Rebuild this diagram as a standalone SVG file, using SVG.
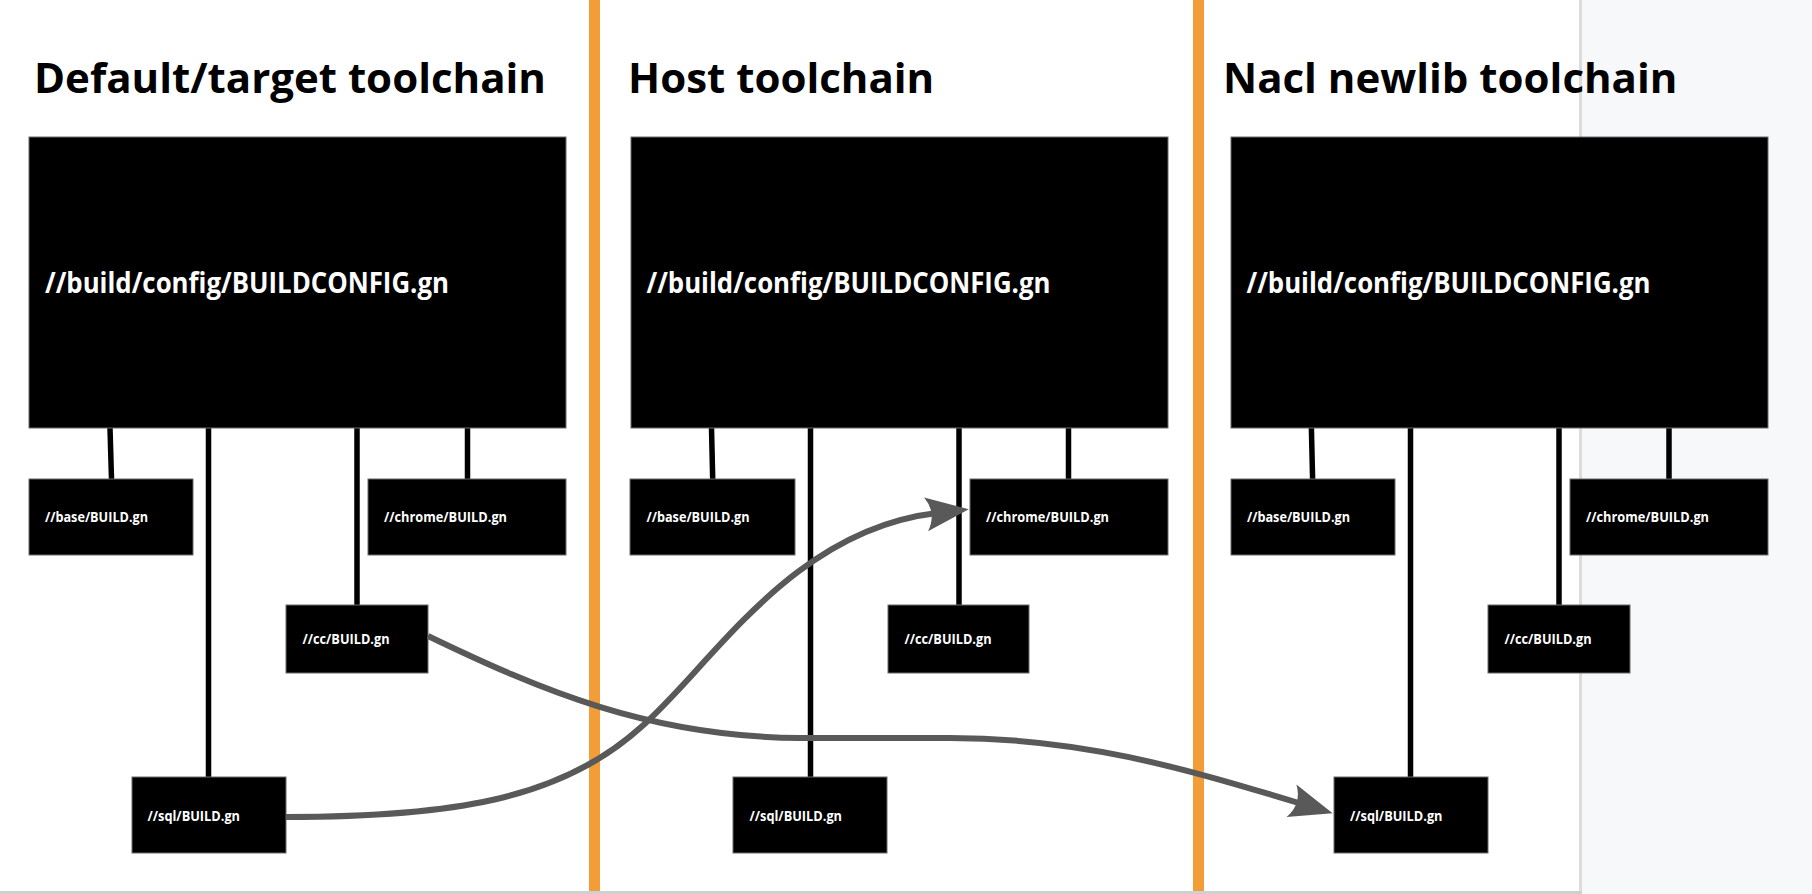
<svg xmlns="http://www.w3.org/2000/svg" width="1812" height="894" viewBox="0 0 1812 894">
<style>
.title{font-family:"Open Sans","Noto Sans","Liberation Sans",sans-serif;font-weight:700;font-size:42px;fill:#000}
.box{fill:#000;stroke:#6a6a6a;stroke-width:1}
.big{font-family:"Open Sans","Noto Sans","Liberation Sans",sans-serif;font-weight:700;font-size:28px;fill:#fff}
.sm{font-family:"Open Sans","Noto Sans","Liberation Sans",sans-serif;font-weight:700;font-size:14px;fill:#fff}
.tree{stroke:#000;stroke-width:5.5;fill:none}
.dep{stroke:#595959;stroke-width:6;fill:none;marker-end:url(#ah)}
.sep{fill:#F39D38}
</style>
<defs>
<marker id="ah" markerUnits="userSpaceOnUse" markerWidth="44" markerHeight="36" viewBox="0 0 44 36" refX="11" refY="18" orient="auto" overflow="visible">
<path d="M0,1 L43,18 L0,35 Q11,18 0,1 Z" fill="#595959"/>
</marker>
</defs>
<rect x="0" y="0" width="1812" height="894" fill="#fff"/>
<rect x="1580" y="0" width="232" height="894" fill="#f7f8fa"/>
<rect x="1579" y="0" width="3" height="894" fill="#dcdcdc"/>
<rect x="0" y="891" width="1582" height="3" fill="#d0d0d0"/>
<rect class="sep" x="589" y="0" width="11" height="891"/>
<rect class="sep" x="1193" y="0" width="11" height="891"/>

<text class="title" x="34" y="93">Default/target toolchain</text>
<text class="title" x="628" y="93">Host toolchain</text>
<text class="title" x="1223" y="93">Nacl newlib toolchain</text>

<g id="connectors">
<path class="tree" d="M110,428 L111.5,479"/>
<path class="tree" d="M208.5,428 L208.5,777"/>
<path class="tree" d="M357,428 L357,605"/>
<path class="tree" d="M467.5,428 L467.5,479"/>
<path class="tree" d="M711.5,428 L712.7,479"/>
<path class="tree" d="M810.5,428 L810.5,777"/>
<path class="tree" d="M959,428 L959,605"/>
<path class="tree" d="M1068.5,428 L1068.5,479"/>
<path class="tree" d="M1311.4,428 L1312.6,479"/>
<path class="tree" d="M1410.5,428 L1410.5,777"/>
<path class="tree" d="M1559,428 L1559,605"/>
<path class="tree" d="M1669,428 L1669,479"/>
</g>

<g id="t1-config"><rect class="box" x="29" y="137" width="537" height="291"/><text class="big" x="45" y="293" textLength="404" lengthAdjust="spacingAndGlyphs">//build/config/BUILDCONFIG.gn</text></g>
<g id="t1-base"><rect class="box" x="29" y="479" width="164" height="76"/><text class="sm" x="45" y="522" textLength="103" lengthAdjust="spacingAndGlyphs">//base/BUILD.gn</text></g>
<g id="t1-chrome"><rect class="box" x="368" y="479" width="198" height="76"/><text class="sm" x="384" y="522" textLength="123" lengthAdjust="spacingAndGlyphs">//chrome/BUILD.gn</text></g>
<g id="t1-cc"><rect class="box" x="286" y="605" width="142" height="68"/><text class="sm" x="302.5" y="644" textLength="87" lengthAdjust="spacingAndGlyphs">//cc/BUILD.gn</text></g>
<g id="t1-sql"><rect class="box" x="132" y="777" width="154" height="76"/><text class="sm" x="147.5" y="820.5" textLength="92.5" lengthAdjust="spacingAndGlyphs">//sql/BUILD.gn</text></g>

<g id="t2-config"><rect class="box" x="631" y="137" width="537" height="291"/><text class="big" x="646.5" y="293" textLength="404" lengthAdjust="spacingAndGlyphs">//build/config/BUILDCONFIG.gn</text></g>
<g id="t2-base"><rect class="box" x="630" y="479" width="165" height="76"/><text class="sm" x="646.5" y="522" textLength="103" lengthAdjust="spacingAndGlyphs">//base/BUILD.gn</text></g>
<g id="t2-chrome"><rect class="box" x="970" y="479" width="198" height="76"/><text class="sm" x="986" y="522" textLength="123" lengthAdjust="spacingAndGlyphs">//chrome/BUILD.gn</text></g>
<g id="t2-cc"><rect class="box" x="888" y="605" width="141" height="68"/><text class="sm" x="904.5" y="644" textLength="87" lengthAdjust="spacingAndGlyphs">//cc/BUILD.gn</text></g>
<g id="t2-sql"><rect class="box" x="733" y="777" width="154" height="76"/><text class="sm" x="749.5" y="820.5" textLength="92.5" lengthAdjust="spacingAndGlyphs">//sql/BUILD.gn</text></g>

<g id="t3-config"><rect class="box" x="1231" y="137" width="537" height="291"/><text class="big" x="1246.5" y="293" textLength="404" lengthAdjust="spacingAndGlyphs">//build/config/BUILDCONFIG.gn</text></g>
<g id="t3-base"><rect class="box" x="1231" y="479" width="164" height="76"/><text class="sm" x="1247" y="522" textLength="103" lengthAdjust="spacingAndGlyphs">//base/BUILD.gn</text></g>
<g id="t3-chrome"><rect class="box" x="1570" y="479" width="198" height="76"/><text class="sm" x="1586" y="522" textLength="123" lengthAdjust="spacingAndGlyphs">//chrome/BUILD.gn</text></g>
<g id="t3-cc"><rect class="box" x="1488" y="605" width="142" height="68"/><text class="sm" x="1504.5" y="644" textLength="87" lengthAdjust="spacingAndGlyphs">//cc/BUILD.gn</text></g>
<g id="t3-sql"><rect class="box" x="1334" y="777" width="154" height="76"/><text class="sm" x="1350" y="820.5" textLength="92.5" lengthAdjust="spacingAndGlyphs">//sql/BUILD.gn</text></g>

<g id="cross-deps">
<path class="dep" d="M286,817 C450,817 560,800 640,728 C710,668 790,530 937,513"/>
<path class="dep" d="M428,636 C540,690 650,737 800,738 L950,738 C1080,738 1180,767 1302,804"/>
</g>
</svg>
